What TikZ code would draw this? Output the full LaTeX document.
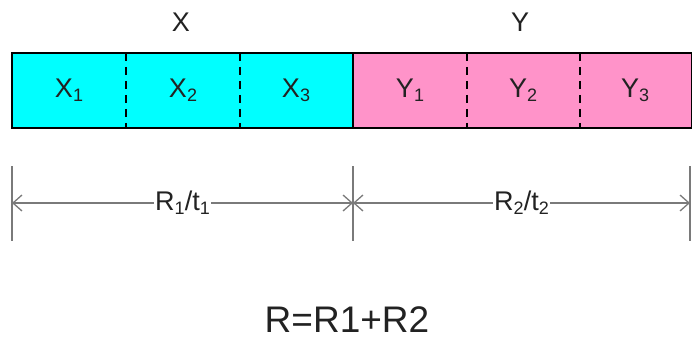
\documentclass[tikz,border=0pt]{standalone}
\usepackage{fontspec}
\setmainfont{Liberation Sans}
\usetikzlibrary{arrows.meta}
\definecolor{xFill}{HTML}{00FFFF}
\definecolor{yFill}{HTML}{FF93C9}
\definecolor{dimDraw}{HTML}{7A7A7A}
\definecolor{txt}{HTML}{222222}

\newcommand{\sub}[1]{\raisebox{-0.3ex}{\fontsize{18}{18}\selectfont #1}}

\begin{document}
\begin{tikzpicture}[x=1pt,y=-1pt,
  cell/.style={minimum width=113.5pt,minimum height=75pt,inner sep=0pt,text=txt,
               font=\fontsize{27}{27}\selectfont},
  xc/.style={cell,fill=xFill},
  yc/.style={cell,fill=yFill},
  sep/.style={line width=1.3pt,dash pattern=on 8pt off 6pt},
  tickln/.style={draw=dimDraw,line width=2.5pt},
  dimln/.style={draw=dimDraw,line width=1.3pt,
                {Straight Barb[length=9pt,width=16pt]}-{Straight Barb[length=9pt,width=16pt]}},
  lbl/.style={text=txt,font=\fontsize{27}{27}\selectfont},
]
\useasboundingbox (0,0) rectangle (692,340);

% ---- bar cells ----------------------------------------------------------
\foreach \i/\X in {1/69, 2/183, 3/296}
  \node[xc] (X\i) at (\X, 90.5) {X\sub{\i}};
\foreach \i/\X in {1/410, 2/523, 3/635}
  \node[yc] (Y\i) at (\X, 90.5) {Y\sub{\i}};

% dividers and outline
\foreach \c in {X1,X2,Y1,Y2}
  \draw[sep] (\c.north east) -- (\c.south east);
\draw[line width=2pt] (X3.north east) -- (X3.south east);
\draw[line width=2pt] (X1.north west) rectangle (Y3.south east);

% ---- captions -----------------------------------------------------------
\node[lbl] (capX) at (181, 22) {X};
\node[lbl] (capY) at (520, 22) {Y};

% ---- dimension lines ----------------------------------------------------
\foreach \n/\X in {0/12, 1/353, 2/690}{
  \coordinate (T\n) at (\X, 166);
  \coordinate (B\n) at (\X, 241);
  \coordinate (D\n) at (\X, 203);
  \draw[tickln] (T\n) -- (B\n);
}
\draw[dimln] (D0) -- node[lbl,fill=white,inner sep=1pt] (r1) {R\sub{1}/t\sub{1}} (D1);
\draw[dimln] (D1) -- node[lbl,fill=white,inner sep=1pt] (r2) {R\sub{2}/t\sub{2}} (D2);

% ---- total --------------------------------------------------------------
\node[lbl,font=\fontsize{37}{37}\selectfont,inner sep=0pt] (tot) at (347, 320) {R=R1+R2};

\end{tikzpicture}
\end{document}
